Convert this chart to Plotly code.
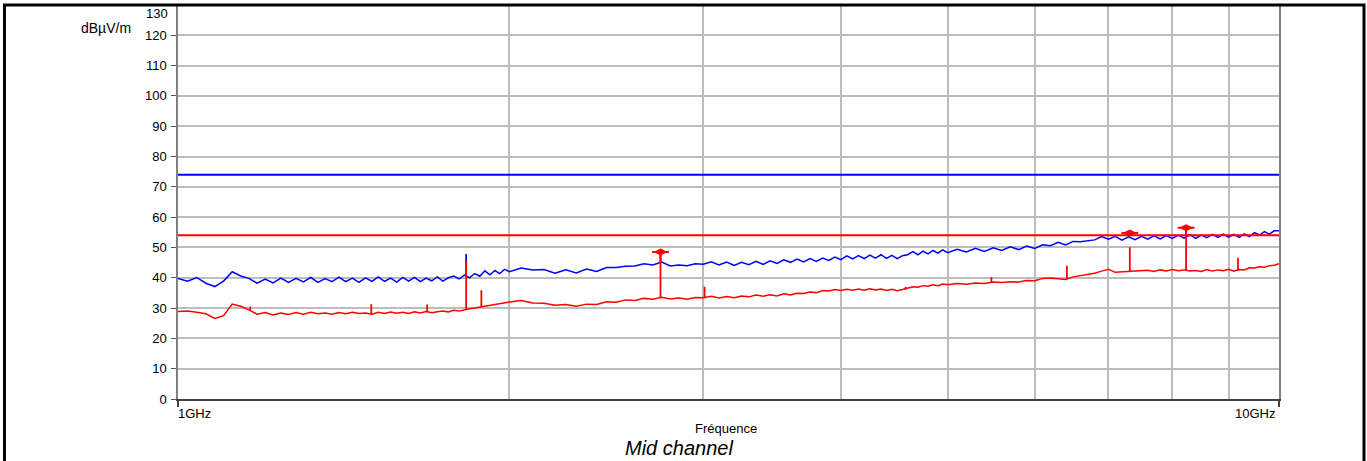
import plotly.graph_objects as go

# ---------------- data ----------------
FREQ_GHZ = [
    1.00, 1.02, 1.04, 1.06, 1.08, 1.10, 1.12, 1.14, 1.16, 1.18,
    1.20, 1.22, 1.24, 1.26, 1.28, 1.30, 1.32, 1.34, 1.36, 1.38,
    1.40, 1.42, 1.44, 1.46, 1.48, 1.50, 1.52, 1.54, 1.56, 1.58,
    1.60, 1.62, 1.64, 1.66, 1.68, 1.70, 1.72, 1.74, 1.76, 1.78,
    1.80, 1.82, 1.84, 1.86, 1.88, 1.90, 1.92, 1.94, 1.96, 1.98,
    2.00, 2.05, 2.10, 2.15, 2.20, 2.25, 2.30, 2.35, 2.40, 2.45,
    2.50, 2.55, 2.60, 2.65, 2.70, 2.75, 2.80, 2.85, 2.90, 2.95,
    3.00, 3.05, 3.10, 3.15, 3.20, 3.25, 3.30, 3.35, 3.40, 3.45,
    3.50, 3.55, 3.60, 3.65, 3.70, 3.75, 3.80, 3.85, 3.90, 3.95,
    4.00, 4.05, 4.10, 4.15, 4.20, 4.25, 4.30, 4.35, 4.40, 4.45,
    4.50, 4.55, 4.60, 4.65, 4.70, 4.75, 4.80, 4.85, 4.90, 4.95,
    5.00, 5.10, 5.20, 5.30, 5.40, 5.50, 5.60, 5.70, 5.80, 5.90,
    6.00, 6.10, 6.20, 6.30, 6.40, 6.50, 6.60, 6.70, 6.80, 6.90,
    7.00, 7.10, 7.20, 7.30, 7.40, 7.50, 7.60, 7.70, 7.80, 7.90,
    8.00, 8.10, 8.20, 8.30, 8.40, 8.50, 8.60, 8.70, 8.80, 8.90,
    9.00, 9.10, 9.20, 9.30, 9.40, 9.50, 9.60, 9.70, 9.80, 9.90,
    10.00,
]

PEAK_DBUV = [
    39.8, 38.9, 40.1, 38.2, 37.1, 38.9, 42.0, 40.6, 39.8, 38.2,
    39.6, 38.3, 39.9, 38.5, 39.8, 38.6, 40.1, 38.5, 39.7, 38.7,
    40.2, 38.7, 39.9, 38.5, 40.0, 38.8, 40.3, 38.8, 39.9, 38.6,
    40.1, 38.9, 40.1, 38.7, 39.9, 39.0, 40.3, 38.9, 40.0, 40.6,
    39.6, 40.9, 40.0, 41.4, 40.5, 42.3, 41.0, 42.4, 41.4, 42.8,
    42.0, 43.2, 42.6, 42.7, 41.5, 42.6, 41.6, 42.9, 42.1, 43.4,
    43.4, 43.8, 43.9, 44.6, 44.2, 45.2, 43.9, 44.2, 44.0, 44.6,
    44.5, 45.3, 44.2, 45.2, 44.1, 45.1, 44.3, 45.4, 44.4, 45.6,
    44.7, 45.9, 45.1, 46.2, 45.2, 46.3, 45.4, 46.5, 45.7, 46.8,
    46.0, 47.2, 46.2, 47.3, 46.3, 47.5, 46.5, 47.6, 46.4, 47.4,
    46.3, 47.3, 47.6, 48.6, 47.6, 48.8, 47.9, 49.0, 48.1, 49.2,
    48.3, 49.4, 48.5, 49.7, 48.7, 49.9, 49.0, 50.2, 49.3, 50.5,
    49.7, 50.9, 50.6, 51.7, 50.8, 52.0, 51.9, 52.3, 52.5, 53.6,
    52.7, 53.7, 52.4, 53.5, 52.6, 53.7, 52.7, 53.8, 52.8, 53.9,
    53.0, 54.1, 53.1, 54.2, 53.0, 54.1, 53.2, 54.3, 53.3, 54.4,
    53.4, 54.3, 53.3, 54.5, 53.6, 54.9, 54.1, 55.2, 54.4, 55.5,
    55.5,
]

AVG_DBUV = [
    28.9, 29.0, 28.6, 28.1, 26.6, 27.5, 31.3, 30.6, 29.4, 28.0,
    28.5, 27.7, 28.4, 27.9, 28.5, 28.0, 28.6, 28.1, 28.4, 28.0,
    28.5, 28.1, 28.6, 28.2, 28.4, 28.0, 28.6, 28.2, 28.7, 28.3,
    28.6, 28.2, 28.8, 28.4, 28.9, 28.5, 28.8, 29.0, 28.7, 29.3,
    29.0, 29.5, 29.8, 30.0, 30.3, 30.7, 30.9, 31.3, 31.5, 31.8,
    32.0, 32.5, 31.7, 31.6, 30.9, 31.2, 30.6, 31.3, 31.2, 32.1,
    31.9, 32.7, 32.5, 33.2, 32.9, 33.6, 33.0, 33.3, 32.9, 33.5,
    33.4, 33.9, 33.3, 33.8, 33.4, 34.0, 33.7, 34.3, 33.9, 34.4,
    34.0, 34.7, 34.3, 34.9, 34.8, 35.3, 35.1, 35.8, 35.6, 36.1,
    35.8, 36.2, 35.9, 36.3, 35.9, 36.4, 36.0, 36.3, 35.8, 36.2,
    35.7, 36.1, 36.6, 37.0, 36.9, 37.4, 37.2, 37.7, 37.4, 37.9,
    37.7, 38.1, 37.9, 38.3, 38.1, 38.6, 38.4, 38.7, 38.6, 39.1,
    39.0, 39.8, 39.9, 39.7, 39.4, 40.3, 40.7, 41.3, 41.5, 42.2,
    42.8, 41.8, 41.9, 42.1, 42.3, 42.2, 42.5, 42.1, 42.6, 42.2,
    42.7, 42.3, 42.6, 42.2, 42.4, 42.1, 42.7, 42.2, 42.6, 42.3,
    42.8, 42.2, 42.7, 42.6, 43.3, 43.2, 43.6, 43.5, 44.0, 44.1,
    44.6,
]

# narrow spurious peaks (frequency, level at the foot, level at the top)
PEAK_SPIKE_GHZ = [1.827, 2.743, 8.234]
PEAK_SPIKE_BASE = [40.4, 44.9, 53.4]
PEAK_SPIKE_TOP = [47.8, 48.5, 56.5]

AVG_SPIKE_GHZ = [1.163, 1.498, 1.684, 1.827, 1.886, 2.743, 3.008, 4.58, 5.48, 6.417, 7.320, 8.234, 9.178]
AVG_SPIKE_BASE = [29.3, 28.0, 28.7, 29.6, 30.5, 33.5, 33.6, 36.0, 38.5, 39.6, 42.2, 42.5, 42.5]
AVG_SPIKE_TOP = [30.5, 31.3, 31.2, 45.7, 35.9, 48.5, 37.0, 37.0, 40.2, 44.0, 50.1, 56.3, 46.6]

LIMIT_PEAK = 74
LIMIT_AVG = 54

MARKER_GHZ = [2.743, 7.320, 8.234]
MARKER_DBUV = [48.5, 54.8, 56.5]

Y_TICKS = [0, 10, 20, 30, 40, 50, 60, 70, 80, 90, 100, 110, 120]
X_MAJOR = [1, 10]
X_MINOR = [2, 3, 4, 5, 6, 7, 8, 9]

FONT = "Liberation Sans, Arial, sans-serif"
BLUE = "#0000ff"
RED = "#ff0000"


def spike_xy(freqs, bases, tops):
    xs, ys = [], []
    for f, b, t in zip(freqs, bases, tops):
        xs += [f, f, None]
        ys += [b, t, None]
    return xs, ys


fig = go.Figure()

fig.add_trace(go.Scatter(x=FREQ_GHZ, y=PEAK_DBUV, mode="lines",
                         line=dict(color=BLUE, width=1.5), hoverinfo="skip"))
sx, sy = spike_xy(PEAK_SPIKE_GHZ, PEAK_SPIKE_BASE, PEAK_SPIKE_TOP)
fig.add_trace(go.Scatter(x=sx, y=sy, mode="lines",
                         line=dict(color=BLUE, width=1.8), hoverinfo="skip"))

fig.add_trace(go.Scatter(x=FREQ_GHZ, y=AVG_DBUV, mode="lines",
                         line=dict(color=RED, width=1.5), hoverinfo="skip"))
sx, sy = spike_xy(AVG_SPIKE_GHZ, AVG_SPIKE_BASE, AVG_SPIKE_TOP)
fig.add_trace(go.Scatter(x=sx, y=sy, mode="lines",
                         line=dict(color=RED, width=1.8), hoverinfo="skip"))

fig.add_trace(go.Scatter(x=[X_MAJOR[0], X_MAJOR[-1]], y=[LIMIT_PEAK, LIMIT_PEAK], mode="lines",
                         line=dict(color=BLUE, width=2), hoverinfo="skip"))
fig.add_trace(go.Scatter(x=[X_MAJOR[0], X_MAJOR[-1]], y=[LIMIT_AVG, LIMIT_AVG], mode="lines",
                         line=dict(color=RED, width=2), hoverinfo="skip"))

fig.add_trace(go.Scatter(x=MARKER_GHZ, y=MARKER_DBUV, mode="markers",
                         marker=dict(symbol="line-ew", size=12, line=dict(color=RED, width=2)),
                         hoverinfo="skip"))
fig.add_trace(go.Scatter(x=MARKER_GHZ, y=MARKER_DBUV, mode="markers",
                         marker=dict(symbol="diamond-wide", size=10, color=RED, line=dict(width=0)),
                         hoverinfo="skip"))

fig.update_layout(
    width=1367, height=461,
    margin=dict(l=178, r=88, t=5, b=62),
    paper_bgcolor="white", plot_bgcolor="white",
    showlegend=False,
    font=dict(family=FONT, size=13, color="#000000"),
)

fig.update_xaxes(
    type="log", range=[0, 1],
    tickvals=X_MAJOR, ticktext=["", ""],
    ticks="outside", ticklen=6, tickwidth=1.5, tickcolor="#404040",
    showgrid=False, zeroline=False,
    showline=True, linecolor="#404040", linewidth=1.5, mirror=False,
    minor=dict(tickvals=X_MINOR, showgrid=True, gridcolor="#bdbdbd", gridwidth=1.5, ticks=""),
)
fig.update_yaxes(
    range=[0, 130],
    tickvals=Y_TICKS, ticktext=[str(v) for v in Y_TICKS],
    ticks="outside", ticklen=5, tickwidth=1, tickcolor="#555555",
    ticklabelstandoff=2,
    tickfont=dict(family=FONT, size=13, color="#000000"),
    showgrid=True, gridcolor="#bdbdbd", gridwidth=1.5, zeroline=False,
    showline=True, linecolor="#808080", linewidth=1.5, mirror=True,
)

annotations = [
    dict(text="130", xref="paper", x=0, xanchor="right", xshift=-8,
         yref="y", y=130, yanchor="middle", yshift=-8, showarrow=False,
         font=dict(family=FONT, size=13)),
    dict(text="dBµV/m", xref="paper", x=0, xanchor="right", xshift=-45,
         yref="y", y=120, yanchor="middle", yshift=7, showarrow=False,
         font=dict(family=FONT, size=14)),
    dict(text="1GHz", xref="paper", x=0, xanchor="left", xshift=-2,
         yref="paper", y=0, yanchor="middle", yshift=-14, showarrow=False,
         font=dict(family=FONT, size=13)),
    dict(text="10GHz", xref="paper", x=1, xanchor="right", xshift=-2,
         yref="paper", y=0, yanchor="middle", yshift=-14, showarrow=False,
         font=dict(family=FONT, size=13)),
    dict(text="Fréquence", xref="paper", x=0.4977, xanchor="center",
         yref="paper", y=0, yanchor="middle", yshift=-29, showarrow=False,
         font=dict(family=FONT, size=13)),
    dict(text="<i>Mid channel</i>", xref="paper", x=0.455, xanchor="center",
         yref="paper", y=0, yanchor="middle", yshift=-49, showarrow=False,
         font=dict(family=FONT, size=20)),
]
fig.update_layout(annotations=annotations)

# outer frame of the figure cell
fig.add_shape(type="rect", xref="paper", yref="paper",
              x0=-0.1576, x1=1.0772, y0=-0.5, y1=1.0,
              line=dict(color="#000000", width=3), fillcolor="rgba(0,0,0,0)", layer="above")

fig.write_html(
    "out.html",
    config={"displayModeBar": False},
    post_script="document.body.style.margin='0';document.body.style.overflow='hidden';",
)
